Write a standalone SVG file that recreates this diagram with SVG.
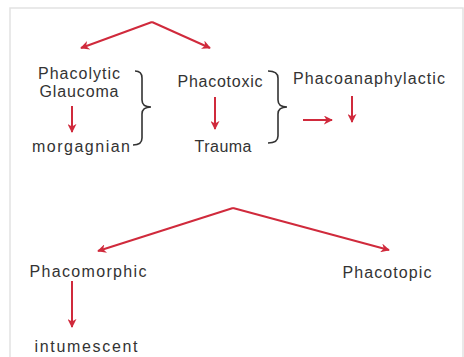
<svg xmlns="http://www.w3.org/2000/svg" width="464" height="357" viewBox="0 0 464 357">
<defs>
<marker id="ah" viewBox="0 0 10 10" refX="9" refY="5" markerWidth="4.5" markerHeight="4.5" markerUnits="strokeWidth" orient="auto">
<path d="M0,0 L10,5 L0,10 L3,5 Z" fill="#d02a3c"/>
</marker>
<style>
.t{font-family:"Liberation Sans",Arial,sans-serif;font-size:16px;fill:#333;}
.c{stroke:#d02a3c;stroke-width:2;fill:none;marker-end:url(#ah);}
.b{stroke:#333;stroke-width:1.6;fill:none;}
</style>
</defs>
<rect x="0" y="0" width="464" height="357" fill="#fff"/>
<rect x="10" y="8" width="453" height="360" fill="none" stroke="#e2e2e2" stroke-width="1.5"/>
<g id="connectors">
<path class="c" d="M152,22 L81,48"/>
<path class="c" d="M152,22 L210,48"/>
<path class="c" d="M72,106 L72,132"/>
<path class="c" d="M215,97 L215,129"/>
<path class="c" d="M303,120 L332,120"/>
<path class="c" d="M352,96 L352,122"/>
<path class="c" d="M233,208 L98,251"/>
<path class="c" d="M233,208 L389,250"/>
<path class="c" d="M72,281 L72,327"/>
</g>
<g id="brace1"><path class="b" d="M135,71 Q142,71 142,78 L142,100 Q142,107 151,107 Q142,107 142,114 L142,138 Q142,145 133,145"/></g>
<g id="brace2"><path class="b" d="M268,71 Q278,71 278,78 L278,100 Q278,107 287,107 Q278,107 278,114 L278,136 Q278,143 268,143"/></g>
<g id="phacolytic"><text class="t" x="79" y="79" text-anchor="middle" textLength="82">Phacolytic</text><text class="t" x="79" y="97" text-anchor="middle" textLength="79">Glaucoma</text></g>
<g id="morgagnian"><text class="t" x="81" y="152" text-anchor="middle" textLength="98">morgagnian</text></g>
<g id="phacotoxic"><text class="t" x="220" y="87" text-anchor="middle" textLength="85">Phacotoxic</text></g>
<g id="trauma"><text class="t" x="223" y="152" text-anchor="middle" textLength="57">Trauma</text></g>
<g id="phacoanaphylactic"><text class="t" x="369" y="84" text-anchor="middle" textLength="152">Phacoanaphylactic</text></g>
<g id="phacomorphic"><text class="t" x="88" y="277" text-anchor="middle" textLength="117">Phacomorphic</text></g>
<g id="intumescent"><text class="t" x="86" y="352" text-anchor="middle" textLength="103">intumescent</text></g>
<g id="phacotopic"><text class="t" x="387" y="278" text-anchor="middle" textLength="89">Phacotopic</text></g>
</svg>
